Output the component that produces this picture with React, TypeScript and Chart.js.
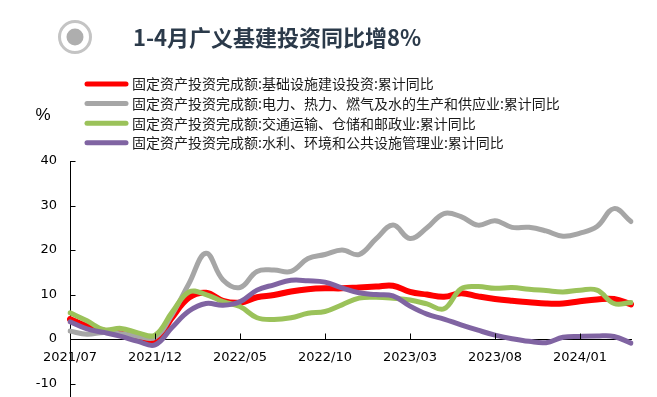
import React, { useEffect, useRef } from 'react';
import { Chart, registerables } from 'chart.js';

Chart.register(...registerables);

const categories = [
  '2021/07', '2021/08', '2021/09', '2021/10', '2021/11', '2021/12',
  '2022/01', '2022/02', '2022/03', '2022/04', '2022/05', '2022/06',
  '2022/07', '2022/08', '2022/09', '2022/10', '2022/11', '2022/12',
  '2023/01', '2023/02', '2023/03', '2023/04', '2023/05', '2023/06',
  '2023/07', '2023/08', '2023/09', '2023/10', '2023/11', '2023/12',
  '2024/01', '2024/02', '2024/03', '2024/04',
];

const tickLabels = ['2021/07', '2021/12', '2022/05', '2022/10', '2023/03', '2023/08', '2024/01'];
const yTicks = [-10, 0, 10, 20, 30, 40];

const seriesNames = [
  '固定资产投资完成额:基础设施建设投资:累计同比',
  '固定资产投资完成额:电力、热力、燃气及水的生产和供应业:累计同比',
  '固定资产投资完成额:交通运输、仓储和邮政业:累计同比',
  '固定资产投资完成额:水利、环境和公共设施管理业:累计同比',
];

const infra = [4.5, 2.9, 1.9, 1.2, 0.3, -0.5, 4.8, 9.3, 10.4, 8.6, 8.2, 9.4, 9.9, 10.7, 11.2, 11.4, 11.4, 11.6, 11.8, 12.0, 10.6, 10.0, 9.5, 10.3, 9.6, 9.0, 8.6, 8.3, 8.0, 8.0, 8.5, 8.9, 9.0, 7.8];
const utilities = [1.8, 1.1, 1.5, 1.2, 0.6, 0.4, 5.5, 12.5, 19.3, 13.3, 11.6, 15.2, 15.5, 15.2, 18.1, 19.0, 20.0, 19.0, 22.5, 25.6, 22.6, 25.0, 28.2, 27.5, 25.6, 26.6, 25.1, 25.1, 24.3, 23.1, 23.8, 25.3, 29.3, 26.4];
const transport = [5.9, 4.1, 2.1, 2.4, 1.4, 0.9, 6.0, 10.6, 10.0, 8.4, 7.3, 4.8, 4.4, 4.8, 5.8, 6.2, 7.7, 9.2, 9.4, 9.2, 8.8, 7.9, 6.8, 11.3, 11.8, 11.4, 11.6, 11.2, 10.9, 10.6, 11.0, 11.0, 8.0, 8.2];
const water = [3.9, 2.3, 1.5, 0.6, -0.5, -1.3, 2.6, 6.3, 8.0, 7.6, 8.4, 11.0, 12.2, 13.2, 13.1, 12.8, 11.5, 10.4, 10.0, 9.7, 7.4, 5.6, 4.5, 3.2, 2.0, 0.9, 0.1, -0.5, -0.8, 0.4, 0.6, 0.7, 0.6, -0.9];

const seriesValues = [infra, utilities, transport, water];

const titleText = '1-4月广义基建投资同比增8%';
const unitLabel = '%';

const COLORS = ['#ff0000', '#a6a6a6', '#9bc25a', '#8064a2'];
const WIDTHS = [6, 5, 5, 5];
const ORDERS = [4, 3, 2, 1];

const decorPlugin = {
  id: 'decor',
  afterDraw(chart: any) {
    const { ctx, chartArea, scales } = chart;
    const xs = scales.x;
    const ys = scales.y;
    ctx.save();
    ctx.strokeStyle = '#000';
    ctx.lineWidth = 1;
    const y0 = Math.round(ys.getPixelForValue(0)) + 0.5;
    categories.forEach((c, i) => {
      if (i > 0 && tickLabels.includes(c)) {
        const px = Math.round(xs.getPixelForValue(i)) + 0.5;
        ctx.beginPath();
        ctx.moveTo(px, y0);
        ctx.lineTo(px, y0 - 6);
        ctx.stroke();
      }
    });
    const lx = Math.round(chartArea.left) + 0.5;
    yTicks.forEach((v) => {
      const py = Math.round(ys.getPixelForValue(v)) + 0.5;
      ctx.beginPath();
      ctx.moveTo(lx, py);
      ctx.lineTo(lx + 5, py);
      ctx.stroke();
    });

    ctx.beginPath();
    ctx.arc(75, 37, 15.5, 0, Math.PI * 2);
    ctx.strokeStyle = '#c4c4c4';
    ctx.lineWidth = 3;
    ctx.stroke();
    ctx.beginPath();
    ctx.arc(75, 37, 8.5, 0, Math.PI * 2);
    ctx.fillStyle = '#aeaeae';
    ctx.fill();

    ctx.fillStyle = '#2b3a4a';
    ctx.font = 'bold 22px "Noto Sans CJK SC"';
    ctx.textAlign = 'left';
    ctx.textBaseline = 'middle';
    ctx.fillText(titleText, 133, 38);

    ctx.font = '14px "Noto Sans CJK SC"';
    seriesNames.forEach((name, i) => {
      const ly = 84 + i * 19.6;
      ctx.beginPath();
      ctx.moveTo(87, ly);
      ctx.lineTo(126, ly);
      ctx.strokeStyle = COLORS[i];
      ctx.lineWidth = 5;
      ctx.lineCap = 'round';
      ctx.stroke();
      ctx.fillStyle = '#1a1a1a';
      ctx.fillText(name, 132, ly);
    });

    ctx.font = '17px "Liberation Sans"';
    ctx.textAlign = 'center';
    ctx.fillStyle = '#000';
    ctx.fillText(unitLabel, 43, 115);
    ctx.restore();
  },
};

export default function App() {
  const ref = useRef<HTMLCanvasElement>(null);
  useEffect(() => {
    if (!ref.current) return;
    const chart = new Chart(ref.current, {
      type: 'line',
      data: {
        labels: categories,
        datasets: seriesValues.map((vals, i) => ({
          label: seriesNames[i],
          data: vals,
          borderColor: COLORS[i],
          backgroundColor: COLORS[i],
          borderWidth: WIDTHS[i],
          pointRadius: 0,
          tension: 0.4,
          fill: false,
          order: ORDERS[i],
          borderCapStyle: 'round',
          borderJoinStyle: 'round',
        })),
      },
      options: {
        responsive: true,
        maintainAspectRatio: false,
        animation: false,
        layout: { padding: { left: 20, right: 26, top: 161, bottom: 0 } },
        plugins: {
          legend: { display: false },
          tooltip: { enabled: false },
          title: { display: false },
        },
        scales: {
          x: {
            type: 'category',
            position: { y: 0 } as any,
            offset: false,
            afterFit: (s: any) => {
              s.height = 0;
              s.paddingTop = 0;
              s.paddingBottom = 0;
            },
            grid: { display: true, drawOnChartArea: false, drawTicks: false },
            border: { display: true, color: '#000', width: 1 },
            ticks: {
              autoSkip: false,
              maxRotation: 0,
              minRotation: 0,
              padding: 11,
              color: '#000',
              font: { family: 'DejaVu Sans', size: 13 },
              callback: (_v: any, i: number) => (tickLabels.includes(categories[i]) ? categories[i] : ''),
            },
          },
          y: {
            min: -13,
            max: 40,
            afterBuildTicks: (s: any) => {
              s.ticks = yTicks.map((v) => ({ value: v }));
            },
            afterFit: (s: any) => {
              s.width = 50;
              s.paddingTop = 0;
              s.paddingBottom = 0;
            },
            grid: { display: true, drawOnChartArea: false, drawTicks: false },
            border: { display: true, color: '#000', width: 1 },
            ticks: {
              autoSkip: false,
              padding: 13,
              color: '#000',
              font: { family: 'DejaVu Sans', size: 13 },
            },
          },
        },
      },
      plugins: [decorPlugin],
    });
    return () => chart.destroy();
  }, []);
  return (
    <div style={{ position: 'fixed', left: 0, top: 0, width: 657, height: 397, background: '#fff' }}>
      <canvas ref={ref} />
    </div>
  );
}
